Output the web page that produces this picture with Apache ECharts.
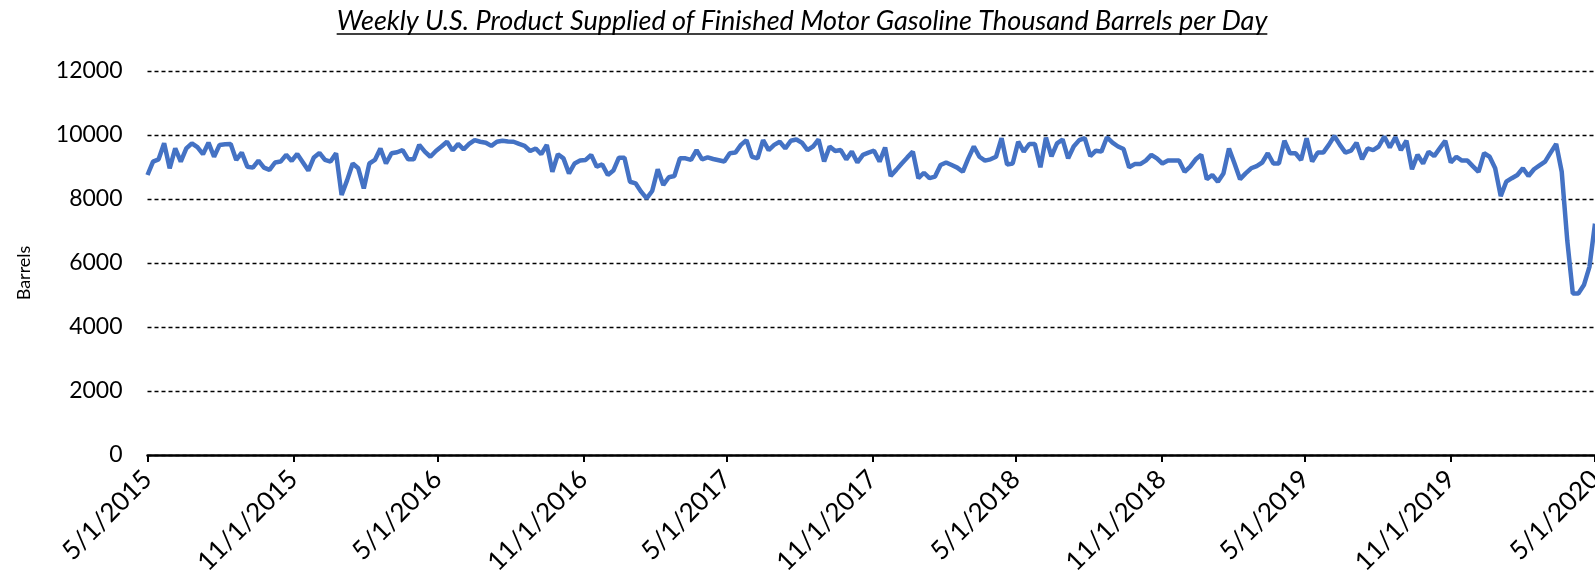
<!DOCTYPE html>
<html>
<head>
<meta charset="utf-8">
<script src="https://cdn.jsdelivr.net/npm/echarts@6/dist/echarts.min.js"></script>
<style>
html,body{margin:0;padding:0;background:#fff;}
#chart{width:1595px;height:570px;}
</style>
</head>
<body>
<div id="chart"></div>
<script>
// Weekly data, one point per week starting on the first date below
const firstWeek = '5/1/2015';
const tickLabels = ['5/1/2015','11/1/2015','5/1/2016','11/1/2016','5/1/2017','11/1/2017','5/1/2018','11/1/2018','5/1/2019','11/1/2019','5/1/2020'];
const yTicks = [0, 2000, 4000, 6000, 8000, 10000, 12000];

const supplyYear1 = [8750,9170,9240,9740,8960,9580,9170,9580,9740,9620,9400,9760,9320,9690,9710,9720,9220,9450,9010,8980,9200,8980,8910,9140,9170,9380,9190,9410,9150,8890,9300,9440,9220,9170,9430,8125,8590,9110,8960,8330,9110,9220,9580,9110,9430,9460,9530,9240,9240,9690,9480,9320];
const supplyYear2 = [9500,9640,9790,9510,9720,9550,9720,9840,9790,9760,9660,9790,9820,9800,9790,9720,9660,9500,9580,9400,9690,8850,9400,9270,8800,9110,9200,9220,9380,9010,9080,8750,8890,9290,9290,8540,8490,8230,8020,8250,8930,8440,8680,8720,9270,9270,9220,9530,9240,9300,9250,9210];
const supplyYear3 = [9170,9430,9450,9690,9840,9320,9270,9840,9530,9690,9790,9580,9820,9860,9760,9530,9640,9860,9170,9640,9500,9530,9240,9480,9140,9380,9450,9510,9170,9610,8720,8910,9110,9300,9480,8650,8820,8650,8700,9060,9140,9060,8980,8850,9270,9640,9320,9200,9240,9320,9900,9080];
const supplyYear4 = [9110,9790,9480,9720,9720,8990,9920,9330,9740,9860,9270,9640,9840,9900,9340,9510,9480,9930,9760,9640,9560,8990,9090,9090,9200,9380,9270,9110,9200,9200,9200,8850,9010,9240,9380,8620,8750,8540,8800,9580,9110,8620,8800,8960,9030,9140,9430,9110,9110,9820,9430,9430];
const supplyYear5 = [9220,9900,9170,9450,9450,9690,9970,9690,9450,9510,9760,9240,9580,9530,9640,9950,9610,9930,9530,9820,8930,9380,9110,9480,9340,9580,9820,9140,9320,9200,9200,9020,8850,9430,9320,8960,8090,8540,8650,8750,8960,8720,8930,9050,9170,9450,9720,8850,6700,5050,5050,5310,5880,7230];

const supply = [].concat(supplyYear1, supplyYear2, supplyYear3, supplyYear4, supplyYear5);

function parseMDY(s){ const p = s.split('/').map(Number); return Date.UTC(p[2], p[0]-1, p[1]); }
const DAY = 86400000;
const t0 = parseMDY(firstWeek);
const tickDays = tickLabels.map(s => Math.round((parseMDY(s) - t0) / DAY));
const labelByDay = {};
tickDays.forEach((d, i) => { labelByDay[d] = tickLabels[i]; });
const seriesData = supply.map((v, i) => [i * 7, v]);

const titleText = 'Weekly U.S. Product Supplied of Finished Motor Gasoline Thousand Barrels per Day';
const titleFont = 'italic 27px Lato';
const cv = document.createElement('canvas').getContext('2d');
cv.font = titleFont;
const titleW = cv.measureText(titleText).width;
const titleCx = 802;

const chart = echarts.init(document.getElementById('chart'), null, {renderer: 'canvas'});
chart.setOption({
  backgroundColor: '#fff',
  animation: false,
  grid: {left: 147.5, right: 0, top: 71, bottom: 115, containLabel: false, outerBoundsMode: 'none'},
  xAxis: {
    type: 'value',
    min: 0,
    max: tickDays[tickDays.length - 1],
    axisLine: {show: true, lineStyle: {color: '#000', width: 2.5}},
    axisTick: {show: true, customValues: tickDays, length: 7, lineStyle: {color: '#000', width: 2}},
    axisLabel: {
      customValues: tickDays,
      rotate: 45,
      margin: 20,
      color: '#000',
      fontFamily: 'Lato',
      fontSize: 26,
      formatter: v => labelByDay[Math.round(v)] || ''
    },
    splitLine: {show: false}
  },
  yAxis: {
    type: 'value',
    min: yTicks[0],
    max: yTicks[yTicks.length - 1],
    interval: 2000,
    axisLine: {show: false},
    axisTick: {show: false},
    axisLabel: {color: '#000', fontFamily: 'Lato', fontSize: 23, margin: 25, formatter: v => String(v)},
    splitLine: {show: true, lineStyle: {color: '#000', type: [4, 3], width: 1.3}}
  },
  series: [{
    type: 'line',
    data: seriesData,
    showSymbol: false,
    smooth: false,
    lineStyle: {color: '#4472C4', width: 4.5},
    z: 5
  }],
  graphic: [
    {
      type: 'text',
      x: titleCx, y: 35,
      style: {text: titleText, font: titleFont, fill: '#000', textAlign: 'center', textVerticalAlign: 'bottom'}
    },
    {
      type: 'line',
      shape: {x1: titleCx - titleW / 2, y1: 34, x2: titleCx + titleW / 2, y2: 34},
      style: {stroke: '#000', lineWidth: 1.5}
    },
    {
      type: 'text',
      x: 24, y: 273,
      rotation: Math.PI / 2,
      style: {text: 'Barrels', font: '18px Lato', fill: '#000', textAlign: 'center', textVerticalAlign: 'middle'}
    }
  ]
});
</script>
</body>
</html>
